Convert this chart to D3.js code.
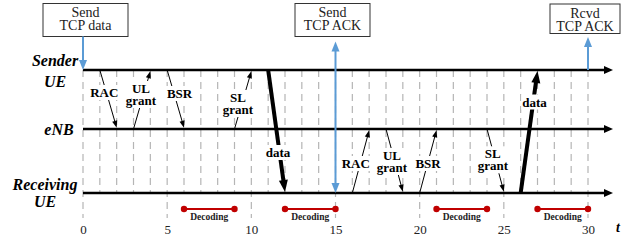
<!DOCTYPE html>
<html>
<head>
<meta charset="utf-8">
<script src="https://cdn.jsdelivr.net/npm/d3@7"></script>
<style>
  body { margin: 0; background: #fff; }
  svg { display: block; }
  svg text { font-family: "Liberation Serif", "Times New Roman", serif; }
</style>
</head>
<body>
<div id="chart"></div>
<script>
// Datos
const ticks = [0, 5, 10, 15, 20, 25, 30]
const rowKeys = ["sender", "enb", "recv"]
const rowLabels = [["Sender", "UE"], ["eNB"], ["Receiving", "UE"]]

const signalLabels = [["RAC"], ["UL", "grant"], ["BSR"], ["SL", "grant"], ["RAC"], ["UL", "grant"], ["BSR"], ["SL", "grant"]]
const signalStart = [1, 3, 5, 9, 16, 18, 20, 24]
const signalEnd = [2, 4, 6, 10, 17, 19, 21, 25]
const signalFrom = ["sender", "enb", "sender", "enb", "recv", "enb", "recv", "enb"]
const signalTo = ["enb", "sender", "enb", "sender", "enb", "recv", "enb", "recv"]

const dataStart = [11, 26]
const dataEnd = [12, 27]
const dataFrom = ["sender", "recv"]
const dataTo = ["recv", "sender"]

const decodeStart = [6, 12, 21, 27]
const decodeEnd = [9, 15, 24, 30]

const eventText = [["Send", "TCP data"], ["Send", "TCP ACK"], ["Rcvd", "TCP ACK"]]
const eventTime = [0, 15, 30]
const eventRow = ["sender", "recv", "sender"]
const eventHead = ["row", "both", "box"]

// Layout
const anchoTotal = 640
const altoTotal = 242
const fuente = "'Liberation Serif', 'Times New Roman', serif"
const axisEnd = 613
const gridBottom = 218
const decodeY = 209
const rowLabelX = [55, 59, 45]
const rowLabelBase = [[66, 86.5], [135], [189.5, 207]]
const signalOffset = [[-4, -2.5], [-1, -6.5], [4, -1.5], [-5, 2.5], [-5, 7], [-2.5, -1], [0, 7], [-2.6, -2.7]]
const dataOffset = [[1.5, 25.5], [5.5, -25]]
const boxX = [[43, 128], [295, 370], [550, 620]]
const boxY = [[3.5, 36.5], [3.5, 36.5], [4, 33.5]]
const blue = "#5b9bd5"
const red = "#c00000"

// Escaladores
const x = d3.scaleLinear().domain([0, 30]).range([83, 588])
const y = d3.scaleOrdinal().domain(rowKeys).range([70, 129, 193])

const svg = d3.select("#chart").append("svg")
    .attr("width", anchoTotal)
    .attr("height", altoTotal)
    .attr("font-family", fuente)

// flecha con cabeza triangular
function arrow(g, x1, y1, x2, y2, o) {
  const dx = x2 - x1, dy = y2 - y1, len = Math.hypot(dx, dy)
  const ux = dx / len, uy = dy / len
  const head = (tx, ty, sx, sy) => {
    const bx = tx - sx * o.head, by = ty - sy * o.head
    g.append("path")
      .attr("d", `M${tx},${ty}L${bx - sy * o.hw},${by + sx * o.hw}L${bx + sy * o.hw},${by - sx * o.hw}Z`)
      .attr("fill", o.color)
  }
  const s = o.both ? o.head * 0.7 : 0
  g.append("line")
    .attr("x1", x1 + ux * s).attr("y1", y1 + uy * s)
    .attr("x2", x2 - ux * o.head * 0.7).attr("y2", y2 - uy * o.head * 0.7)
    .attr("stroke", o.color)
    .attr("stroke-width", o.w)
  head(x2, y2, ux, uy)
  if (o.both) head(x1, y1, -ux, -uy)
}

// etiqueta con fondo blanco
function label(g, lines, cx, base, size) {
  const t = g.append("text")
    .attr("text-anchor", "middle")
    .attr("font-family", fuente)
    .attr("font-weight", "bold")
    .attr("font-size", size)
  lines.forEach((l, i) => {
    t.append("tspan").attr("x", cx).attr("y", base + i * 12).text(l)
  })
  const b = t.node().getBBox()
  g.insert("rect", () => t.node())
    .attr("x", b.x - 1).attr("y", b.y)
    .attr("width", b.width + 2).attr("height", b.height)
    .attr("fill", "#fff")
}

// Rejilla
const grid = svg.append("g")
d3.range(0, 31).forEach(t => {
  grid.append("line")
    .attr("x1", x(t)).attr("x2", x(t))
    .attr("y1", y("sender")).attr("y2", t % 5 === 0 ? gridBottom : y("recv"))
    .attr("stroke", "#b5b5b5")
    .attr("stroke-width", 1.2)
    .attr("stroke-dasharray", "7,5")
})

// Eje de tiempo
const axis = svg.append("g")
    .attr("transform", `translate(0,${gridBottom})`)
    .call(d3.axisBottom(x).tickValues(ticks).tickSize(0).tickPadding(7))
axis.attr("font-family", fuente)
axis.select(".domain").remove()
axis.selectAll("text")
    .attr("font-family", fuente)
    .attr("font-size", 13)
    .attr("fill", "#222")

svg.append("text")
    .attr("x", 618).attr("y", 232)
    .attr("text-anchor", "middle")
    .attr("font-style", "italic")
    .attr("font-weight", "bold")
    .attr("font-size", 14)
    .text("t")

// Lineas de tiempo
const rows = svg.append("g")
rowKeys.forEach((k, i) => {
  arrow(rows, x(0), y(k), axisEnd, y(k), { w: 2.5, head: 9, hw: 4, color: "#000" })
  const t = rows.append("text")
    .attr("text-anchor", "middle")
    .attr("font-weight", "bold")
    .attr("font-style", "italic")
    .attr("font-size", 16)
  rowLabels[i].forEach((l, j) => {
    t.append("tspan").attr("x", rowLabelX[i]).attr("y", rowLabelBase[i][j]).text(l)
  })
})

// Señales
const sig = svg.append("g")
signalLabels.forEach((lab, i) => {
  const y1 = y(signalFrom[i]), y2 = y(signalTo[i])
  const tip = y2 + (y2 > y1 ? -1.3 : 1.3)
  arrow(sig, x(signalStart[i]), y1, x(signalEnd[i]), tip, { w: 1, head: 7, hw: 2.6, color: "#000" })
})
signalLabels.forEach((lab, i) => {
  const mx = (x(signalStart[i]) + x(signalEnd[i])) / 2
  const my = (y(signalFrom[i]) + y(signalTo[i])) / 2
  label(sig, lab, mx + signalOffset[i][0], my + signalOffset[i][1], 13)
})

// Datos
const dat = svg.append("g")
dataStart.forEach((d, i) => {
  const y1 = y(dataFrom[i]), y2 = y(dataTo[i])
  arrow(dat, x(d), y1, x(dataEnd[i]), y2 + (y2 > y1 ? -1 : 1), { w: 4, head: 12, hw: 4.5, color: "#000" })
})
dataStart.forEach((d, i) => {
  const mx = (x(d) + x(dataEnd[i])) / 2
  const my = (y(dataFrom[i]) + y(dataTo[i])) / 2
  label(dat, ["data"], mx + dataOffset[i][0], my + dataOffset[i][1], 13)
})

// Decodificacion
const dec = svg.append("g")
decodeStart.forEach((d, i) => {
  dec.append("line")
    .attr("x1", x(d)).attr("x2", x(decodeEnd[i]))
    .attr("y1", decodeY).attr("y2", decodeY)
    .attr("stroke", red).attr("stroke-width", 2)
  ;[d, decodeEnd[i]].forEach(t => {
    dec.append("circle").attr("cx", x(t)).attr("cy", decodeY).attr("r", 3.2).attr("fill", red)
  })
  dec.append("text")
    .attr("x", (x(d) + x(decodeEnd[i])) / 2)
    .attr("y", decodeY + 11)
    .attr("text-anchor", "middle")
    .attr("font-weight", "bold")
    .attr("font-size", 9.5)
    .attr("fill", "#222")
    .text("Decoding")
})

// Eventos TCP
const ev = svg.append("g")
eventText.forEach((txt, i) => {
  const [l, r] = boxX[i], [t, b] = boxY[i]
  ev.append("rect")
    .attr("x", l).attr("y", t)
    .attr("width", r - l).attr("height", b - t)
    .attr("fill", "#fff").attr("stroke", "#333").attr("stroke-width", 1)
  const tx = ev.append("text")
    .attr("text-anchor", "middle")
    .attr("font-size", 14)
    .attr("fill", "#222")
  txt.forEach((s, j) => {
    tx.append("tspan").attr("x", (l + r) / 2).attr("y", t + 13.5 + j * 13).text(s)
  })
  const xe = x(eventTime[i]), yr = y(eventRow[i])
  const o = { w: 2, head: 10, hw: 4, color: blue }
  if (eventHead[i] === "row") arrow(ev, xe, b, xe, yr, o)
  else if (eventHead[i] === "box") arrow(ev, xe, yr, xe, b + 3.5, o)
  else arrow(ev, xe, yr, xe, b + 5, { ...o, both: true })
})
</script>
</body>
</html>
